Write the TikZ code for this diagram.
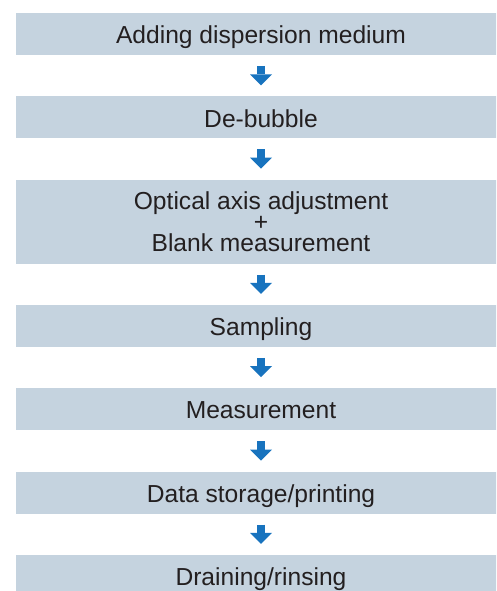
\documentclass[tikz,border=0pt]{standalone}
\usepackage{fontspec}
\setmainfont{Liberation Sans}
\usetikzlibrary{positioning,arrows.meta}
\definecolor{boxfill}{RGB}{197,211,223}
\definecolor{flowblue}{RGB}{24,115,190}
\definecolor{inkgray}{RGB}{35,31,32}
\tikzset{
  stepbase/.style={fill=boxfill,minimum width=490pt,inner sep=0pt,outer sep=0pt,
    text=inkgray,font=\fontsize{24.6}{21}\selectfont},
  stepbox/.style={stepbase,minimum height=42pt,text height=22pt,text depth=2.5pt},
  tallbox/.style={stepbase,minimum height=84pt,align=center},
  flowarrow/.style={draw=flowblue,line width=8pt,shorten <=11pt,shorten >=11pt,
    -{Triangle[width=22pt,length=11pt,line width=0pt,fill=flowblue]}}
}
\begin{document}
\begin{tikzpicture}[x=1pt,y=-1pt,node distance=41.3pt]
        \useasboundingbox (0,0) rectangle (496,591);
        \clip (0,0) rectangle (496,591);

        \node[stepbox,anchor=north west] (adding) at (16,13) {Adding dispersion medium};
        \node[stepbox,below=of adding] (debubble) {De-bubble};
        \node[tallbox,below=of debubble] (optical) {Optical axis adjustment\\+\\Blank measurement};
        \node[stepbox,below=of optical] (sampling) {Sampling};
        \node[stepbox,below=of sampling] (measure) {Measurement};
        \node[stepbox,below=of measure] (storage) {Data storage/printing};
        \node[stepbox,below=of storage] (draining) {Draining/rinsing};

        \foreach \a/\b in {adding/debubble,debubble/optical,optical/sampling,
                           sampling/measure,measure/storage,storage/draining}
          \draw[flowarrow] (\a) -- (\b);
       \end{tikzpicture}
\end{document}
